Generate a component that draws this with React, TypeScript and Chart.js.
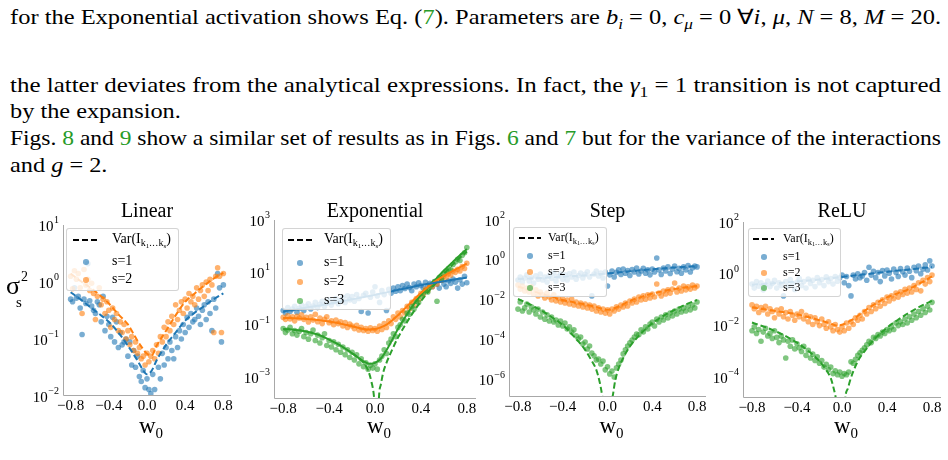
import React, { useEffect, useLayoutEffect, useRef } from "react";
import { Chart, registerables } from "chart.js";

Chart.register(...registerables);

const SERIF = '"Liberation Serif", "Times New Roman", Times, serif';
const BLUE = "31,119,180";
const ORANGE = "255,127,14";
const GREEN = "44,160,44";
const LINK_GREEN = "rgb(40,155,40)";
const SPINE = "#a8a8a8";

// ---------- shared x grid (w0) ----------
const W0: number[] = [
  -0.8, -0.78, -0.76, -0.74, -0.72, -0.7, -0.68, -0.66, -0.64, -0.62,
  -0.6, -0.58, -0.56, -0.54, -0.52, -0.5, -0.48, -0.46, -0.44, -0.42,
  -0.4, -0.38, -0.36, -0.34, -0.32, -0.3, -0.28, -0.26, -0.24, -0.22,
  -0.2, -0.18, -0.16, -0.14, -0.12, -0.1, -0.08, -0.06, -0.04, -0.02,
  0.0, 0.02, 0.04, 0.06, 0.08, 0.1, 0.12, 0.14, 0.16, 0.18,
  0.2, 0.22, 0.24, 0.26, 0.28, 0.3, 0.32, 0.34, 0.36, 0.38,
  0.4, 0.42, 0.44, 0.46, 0.48, 0.5, 0.52, 0.54, 0.56, 0.58,
  0.6, 0.62, 0.64, 0.66, 0.68, 0.7, 0.72, 0.74, 0.76, 0.78,
  0.8,
];
const X_TICKS: number[] = [-0.8, -0.4, 0.0, 0.4, 0.8];

// ---------- Linear ----------
const LIN_Y_TICKS: number[] = [1e-2, 1e-1, 1e0, 1e1];
const LIN_S1: number[] = [
  0.5, 0.45, 0.79, 0.52, 0.56, 0.35, 0.12, 0.5, 0.42, 2.1,
  0.47, 0.38, 0.32, 0.28, 0.45, 0.4, 0.2, 0.56, 0.14, 0.25,
  0.18, 0.11, 0.24, 0.089, 0.2, 0.071, 0.13, 0.079, 0.089, 0.1,
  0.05, 0.089, 0.035, 0.063, 0.032, 0.05, 0.022, 0.018, 0.028, 0.014,
  0.02, 0.013, 0.011, 0.024, 0.013, 0.0089, 0.032, 0.02, 0.056, 0.035,
  0.071, 0.045, 0.089, 0.063, 0.045, 0.11, 0.071, 0.14, 0.1, 0.18,
  0.13, 0.24, 0.16, 0.28, 0.2, 0.22, 0.35, 0.25, 0.18, 0.32,
  0.4, 0.22, 0.45, 0.28, 0.14, 0.5, 0.35, 1.4, 0.79, 0.089, 0.89,
];
const LIN_S2: number[] = [
  1.26, 0.76, 1.58, 1.12, 1.41, 0.79, 0.28, 1.66, 0.89, 1.12,
  0.71, 0.95, 0.63, 0.22, 0.56, 0.79, 0.4, 0.5, 0.28, 0.45,
  0.32, 0.16, 0.35, 0.22, 0.28, 0.14, 0.2, 0.13, 0.18, 0.1,
  0.14, 0.079, 0.11, 0.063, 0.089, 0.056, 0.071, 0.045, 0.05, 0.035,
  0.056, 0.04, 0.05, 0.063, 0.045, 0.079, 0.056, 0.11, 0.089, 0.16,
  0.11, 0.2, 0.14, 0.25, 0.18, 0.4, 0.22, 0.32, 0.45, 0.28,
  0.5, 0.35, 0.63, 0.45, 0.56, 0.4, 0.79, 0.5, 0.71, 0.89,
  0.56, 1.0, 0.71, 1.12, 0.89, 0.13, 1.26, 1.78, 1.26, 0.13, 1.41,
];
const LIN_CURVE_X: number[] = [-0.8, -0.7, -0.6, -0.5, -0.4, -0.3, -0.2, -0.1, -0.05, 0, 0.05, 0.1, 0.2, 0.3, 0.4, 0.5, 0.6, 0.7, 0.8];
const LIN_VAR_S1: number[] = [0.66, 0.5, 0.37, 0.275, 0.2, 0.13, 0.076, 0.042, 0.03, 0.024, 0.028, 0.042, 0.079, 0.13, 0.21, 0.29, 0.38, 0.5, 0.63];
const LIN_VAR_S2: number[] = [1.4, 1.05, 0.81, 0.6, 0.42, 0.27, 0.18, 0.093, 0.07, 0.055, 0.052, 0.076, 0.14, 0.26, 0.45, 0.63, 0.87, 1.15, 1.45];

// ---------- Exponential ----------
const EXP_Y_TICKS: number[] = [1e-3, 1e-1, 1e1, 1e3];
const EXP_S1: number[] = [
  0.35, 0.28, 0.45, 0.32, 0.4, 0.5, 0.3, 0.42, 0.56, 0.35,
  0.5, 0.63, 0.4, 0.52, 0.71, 0.45, 0.6, 0.79, 0.5, 0.66,
  0.89, 0.56, 0.76, 1.0, 0.63, 0.83, 1.12, 0.71, 1.26, 0.89,
  1.2, 0.79, 1.41, 1.0, 0.32, 1.32, 1.58, 0.28, 1.12, 1.78,
  2.8, 1.26, 0.71, 2.0, 1.41, 0.35, 2.24, 1.58, 2.5, 1.9,
  2.8, 2.0, 3.16, 2.4, 3.55, 2.63, 2.0, 3.55, 2.8, 4.0,
  3.16, 2.5, 4.2, 3.16, 3.8, 2.8, 4.5, 3.55, 2.5, 5.0,
  3.55, 2.8, 4.8, 3.8, 5.6, 4.2, 2.5, 5.2, 3.55, 7.1, 4.0,
];
const EXP_S2: number[] = [
  0.19, 0.16, 0.22, 0.166, 0.2, 0.14, 0.21, 0.18, 0.24, 0.16,
  0.19, 0.126, 0.2, 0.15, 0.25, 0.13, 0.18, 0.11, 0.16, 0.2,
  0.12, 0.14, 0.1, 0.15, 0.11, 0.13, 0.089, 0.12, 0.079, 0.105,
  0.089, 0.071, 0.095, 0.063, 0.079, 0.06, 0.071, 0.056, 0.076, 0.06,
  0.071, 0.056, 0.089, 0.066, 0.11, 0.079, 0.14, 0.11, 0.2, 0.16,
  0.28, 0.2, 0.35, 0.28, 0.5, 0.4, 0.71, 0.56, 1.0, 0.89,
  1.58, 1.41, 2.24, 2.0, 3.16, 2.8, 4.2, 3.55, 5.6, 5.0,
  7.1, 6.3, 8.9, 7.9, 11.2, 10, 13.2, 11.2, 16.6, 14.1, 22.4,
];
const EXP_S3: number[] = [
  0.071, 0.05, 0.063, 0.079, 0.045, 0.06, 0.04, 0.056, 0.071, 0.035,
  0.05, 0.028, 0.045, 0.063, 0.025, 0.04, 0.02, 0.032, 0.045, 0.016,
  0.025, 0.014, 0.022, 0.011, 0.018, 0.0089, 0.014, 0.0071, 0.011, 0.0056,
  0.0089, 0.0045, 0.0071, 0.0032, 0.005, 0.0025, 0.0035, 0.002, 0.0028, 0.0022,
  0.0032, 0.002, 0.0045, 0.0063, 0.011, 0.0079, 0.02, 0.028, 0.045, 0.035,
  0.079, 0.1, 0.16, 0.14, 0.28, 0.25, 0.5, 0.4, 0.79, 0.71,
  1.26, 1.58, 2.0, 1.78, 2.8, 3.55, 4.5, 0.79, 6.3, 5.6,
  8.9, 11.2, 14.1, 12.6, 20, 25, 31.6, 28.2, 44.7, 56, 89,
];
const EXP_CURVE_X: number[] = [-0.8, -0.7, -0.6, -0.5, -0.4, -0.3, -0.2, -0.1, -0.05, 0, 0.05, 0.1, 0.2, 0.3, 0.4, 0.5, 0.6, 0.7, 0.8];
const EXP_FIT_S1: number[] = [0.32, 0.376, 0.45, 0.53, 0.63, 0.77, 0.93, 1.13, 1.26, 1.38, 1.55, 1.72, 2.14, 2.63, 3.24, 3.85, 4.57, 5.4, 6.3];
const EXP_FIT_S2: number[] = [0.18, 0.178, 0.166, 0.151, 0.132, 0.11, 0.087, 0.069, 0.065, 0.068, 0.079, 0.1, 0.23, 0.62, 1.62, 3.8, 7.4, 12.6, 21.4];
const EXP_FIT_S3: number[] = [0.068, 0.063, 0.055, 0.042, 0.027, 0.0158, 0.0081, 0.004, 0.0032, 0.0035, 0.005, 0.0105, 0.068, 0.35, 1.38, 4.0, 11.7, 30.9, 77.6];
const EXP_VAR_S3_X: number[] = [-0.2, -0.14, -0.1, -0.06, -0.03, -0.01, 0, 0.02, 0.03, 0.05, 0.07, 0.1, 0.15, 0.2, 0.3, 0.4, 0.5, 0.6, 0.7, 0.8];
const EXP_VAR_S3: number[] = [0.0081, 5.2e-3, 3.5e-3, 1.8e-3, 6.3e-4, 2e-4, 5e-5, 1e-9, 5e-5, 5e-4, 1.4e-3, 3.5e-3, 0.0112, 0.032, 0.178, 0.79, 2.8, 8.9, 25, 63];

// ---------- Step ----------
const STEP_Y_TICKS: number[] = [1e-6, 1e-4, 1e-2, 1e0, 1e2];
const STEP_S1: number[] = [
  0.1, 0.14, 0.079, 0.126, 0.18, 0.089, 0.13, 0.071, 0.16, 0.11,
  0.2, 0.1, 0.14, 0.079, 0.166, 0.12, 0.22, 0.089, 0.15, 0.2,
  0.11, 0.18, 0.1, 0.21, 0.14, 0.25, 0.11, 0.166, 0.22, 0.126,
  0.19, 0.26, 0.14, 0.016, 0.2, 0.28, 0.16, 0.22, 0.126, 0.25,
  0.05, 0.18, 0.28, 0.14, 0.24, 0.32, 0.19, 0.35, 0.22, 0.3,
  0.166, 0.33, 0.25, 0.4, 0.2, 0.28, 0.38, 0.22, 0.32, 0.18,
  0.35, 0.25, 1.26, 0.32, 0.19, 0.4, 0.28, 0.45, 0.21, 0.35,
  0.5, 0.26, 0.38, 0.22, 0.45, 0.32, 0.52, 0.25, 0.4, 0.5, 0.45,
];
const STEP_S2: number[] = [
  0.056, 0.035, 0.05, 0.028, 0.04, 0.025, 0.045, 0.02, 0.032, 0.016,
  0.025, 0.018, 0.0126, 0.022, 0.014, 0.01, 0.018, 0.0089, 0.0126, 0.0079,
  0.011, 0.0071, 0.01, 0.0063, 0.011, 0.0056, 0.0079, 0.005, 0.0071, 0.0045,
  0.0063, 0.004, 0.0056, 0.0035, 0.005, 0.0028, 0.004, 0.0025, 0.0035, 0.0022,
  0.0032, 0.002, 0.0035, 0.0028, 0.0045, 0.0035, 0.0056, 0.0045, 0.0071, 0.005,
  0.0089, 0.0071, 0.011, 0.0079, 0.014, 0.01, 0.016, 0.011, 0.018, 0.0126,
  0.02, 0.014, 0.063, 0.022, 0.016, 0.028, 0.02, 0.032, 0.022, 0.035,
  0.071, 0.025, 0.04, 0.028, 0.05, 0.032, 0.045, 0.035, 0.056, 0.04, 0.05,
];
const STEP_S3: number[] = [
  3.5e-3, 7.9e-3, 2.8e-3, 4e-3, 6.3e-3, 2.5e-3, 4.5e-3, 3.2e-3, 2e-3, 3.5e-3,
  1.4e-3, 2.5e-3, 1.1e-3, 1.8e-3, 8.9e-4, 1.4e-3, 7.9e-4, 1e-3, 5.6e-4, 8.9e-4,
  5e-4, 7.1e-4, 3.5e-4, 4.5e-4, 2.5e-4, 3.2e-4, 1.6e-4, 1.1e-4, 1.4e-4, 6.3e-5,
  7.9e-5, 3.5e-5, 5e-5, 2.2e-5, 1.6e-5, 1e-5, 1.1e-5, 6.3e-6, 8.9e-6, 3.2e-6,
  4.5e-6, 2e-6, 2.8e-6, 1.4e-6, 4e-6, 6.3e-6, 1e-5, 2e-5, 3.2e-5, 5e-5,
  7.1e-5, 1e-4, 1.4e-4, 2e-4, 1.8e-4, 3.2e-4, 2.5e-4, 4.5e-4, 3.5e-4, 6.3e-4,
  7.9e-4, 5e-4, 1.1e-3, 7.9e-4, 1.4e-3, 1e-3, 1.8e-3, 1.26e-3, 2.2e-3, 1.6e-3,
  2.8e-3, 2e-3, 3.5e-3, 2.5e-3, 4e-3, 2.8e-3, 5e-3, 3.2e-3, 5.6e-3, 4e-3, 7.9e-3,
];
const STEP_VAR_S1_X: number[] = [-0.8, -0.6, -0.4, -0.2, 0, 0.2, 0.4, 0.6, 0.8];
const STEP_VAR_S1: number[] = [0.112, 0.126, 0.145, 0.17, 0.21, 0.27, 0.34, 0.42, 0.5];
const STEP_VAR_S2_X: number[] = [-0.8, -0.7, -0.6, -0.5, -0.4, -0.3, -0.2, -0.1, 0, 0.1, 0.2, 0.3, 0.4, 0.5, 0.6, 0.7, 0.8];
const STEP_VAR_S2: number[] = [0.047, 0.032, 0.021, 0.0145, 0.01, 0.0076, 0.006, 0.0044, 0.0032, 0.0047, 0.0089, 0.014, 0.021, 0.028, 0.035, 0.043, 0.05];
const STEP_VAR_S3_X: number[] = [-0.8, -0.7, -0.6, -0.5, -0.4, -0.3, -0.2, -0.15, -0.1, -0.07, -0.05, -0.03, 0, 0.03, 0.05, 0.07, 0.1, 0.15, 0.2, 0.3, 0.4, 0.5, 0.6, 0.7, 0.8];
const STEP_VAR_S3: number[] = [0.0112, 0.0063, 0.0032, 0.0014, 5.6e-4, 1.5e-4, 3.2e-5, 1.1e-5, 3.2e-6, 7.9e-7, 2e-7, 3.2e-8, 1e-12, 3.2e-8, 2e-7, 1e-6, 3.8e-6, 1.6e-5, 4.7e-5, 2.1e-4, 6.8e-4, 1.6e-3, 3.2e-3, 6e-3, 0.01];

// ---------- ReLU ----------
const RELU_Y_TICKS: number[] = [1e-4, 1e-2, 1e0, 1e2];
const RELU_S1: number[] = [
  0.4, 0.28, 0.5, 0.33, 0.45, 0.24, 0.38, 0.52, 0.32, 0.42,
  0.56, 0.28, 0.45, 0.35, 0.14, 0.5, 0.33, 0.6, 0.4, 0.25,
  0.48, 0.66, 0.35, 0.5, 0.28, 0.63, 0.42, 0.56, 0.32, 0.71,
  0.45, 0.6, 0.35, 0.76, 0.5, 0.66, 0.4, 0.79, 0.52, 0.71,
  0.89, 0.45, 0.79, 0.35, 0.14, 0.89, 0.63, 1.0, 0.71, 0.83,
  1.12, 0.56, 1.78, 0.89, 1.26, 0.71, 1.12, 0.5, 1.32, 0.83,
  1.41, 1.05, 0.63, 1.51, 1.12, 0.79, 1.58, 1.2, 0.89, 1.66,
  1.26, 0.71, 1.78, 1.32, 2.0, 1.0, 1.51, 2.24, 1.41, 3.16, 2.0,
];
const RELU_S2: number[] = [
  0.063, 0.045, 0.056, 0.032, 0.05, 0.04, 0.056, 0.028, 0.045, 0.035,
  0.02, 0.04, 0.028, 0.045, 0.022, 0.032, 0.018, 0.035, 0.025, 0.016,
  0.028, 0.022, 0.035, 0.018, 0.025, 0.014, 0.022, 0.011, 0.02, 0.014,
  0.01, 0.018, 0.011, 0.0079, 0.014, 0.0089, 0.0063, 0.011, 0.0071, 0.0056,
  0.0089, 0.0063, 0.0126, 0.0079, 0.014, 0.011, 0.02, 0.016, 0.025, 0.018,
  0.035, 0.028, 0.05, 0.035, 0.063, 0.045, 0.079, 0.056, 0.1, 0.071,
  0.126, 0.089, 0.14, 0.11, 0.18, 0.126, 0.2, 0.16, 0.25, 0.18,
  0.28, 0.2, 0.35, 0.25, 0.45, 0.22, 0.56, 0.4, 0.71, 0.5, 0.89,
];
const RELU_S3: number[] = [
  6.3e-3, 8.9e-3, 5e-3, 7.1e-3, 2.5e-3, 5.6e-3, 7.9e-3, 4e-3, 5e-3, 3.2e-3,
  6.3e-3, 3.5e-3, 2.2e-3, 4e-3, 2.8e-3, 5.6e-4, 2.5e-3, 1.6e-3, 2.8e-3, 1.26e-3,
  2e-3, 1.4e-3, 1e-3, 1.6e-3, 7.1e-4, 1.1e-3, 5.6e-4, 7.9e-4, 4.5e-4, 6.3e-4,
  3.5e-4, 4.5e-4, 2.5e-4, 3.2e-4, 2e-4, 2.5e-4, 1.4e-4, 1.8e-4, 1.26e-4, 1.6e-4,
  1.1e-4, 1.4e-4, 1.26e-4, 1.6e-4, 4e-4, 3.5e-4, 5e-4, 7.1e-4, 8.9e-4, 1.1e-3,
  1.4e-3, 1.8e-3, 2.5e-3, 2.2e-3, 3.5e-3, 3.2e-3, 4.5e-3, 4e-3, 5.6e-3, 5e-3,
  7.1e-3, 6.3e-3, 8.9e-3, 7.1e-3, 0.0126, 0.01, 0.014, 0.011, 0.018, 0.0126,
  0.022, 0.016, 0.028, 0.02, 0.035, 0.025, 0.045, 0.032, 0.056, 0.04, 0.079,
];
const RELU_VAR_S1_X: number[] = [-0.8, -0.6, -0.4, -0.2, 0, 0.2, 0.4, 0.6, 0.8];
const RELU_VAR_S1: number[] = [0.38, 0.43, 0.5, 0.6, 0.76, 0.95, 1.2, 1.48, 1.82];
const RELU_VAR_S2_X: number[] = [-0.8, -0.6, -0.4, -0.2, -0.1, -0.05, 0, 0.05, 0.1, 0.2, 0.3, 0.4, 0.5, 0.6, 0.7, 0.8];
const RELU_VAR_S2: number[] = [0.05, 0.037, 0.0275, 0.0162, 0.012, 0.01, 0.0107, 0.0135, 0.0178, 0.037, 0.071, 0.123, 0.18, 0.26, 0.45, 0.79];
const RELU_VAR_S3_X: number[] = [-0.8, -0.6, -0.4, -0.3, -0.2, -0.15, -0.1, -0.07, -0.05, -0.03, 0, 0.03, 0.05, 0.07, 0.1, 0.15, 0.2, 0.3, 0.4, 0.5, 0.6, 0.7, 0.8];
const RELU_VAR_S3: number[] = [0.0132, 0.0063, 0.0022, 1.05e-3, 4.2e-4, 2.2e-4, 9.3e-5, 3.2e-5, 1.26e-5, 4e-6, 1e-9, 1.6e-5, 3.5e-5, 7.1e-5, 1.7e-4, 5e-4, 1.02e-3, 3.4e-3, 8.3e-3, 0.017, 0.032, 0.056, 0.091];

// ---------- panel descriptions ----------
type LineSpec = { xs: number[]; ys: number[]; rgb: string; dashed: boolean };
type PointSpec = { ys: number[]; rgb: string };
type LegendSpec = { left: number; top: number; w: number; h: number; font: number; rows: number[]; dashX: [number, number]; dotX: number; textX: number };
type Panel = {
  key: string; title: string; L: number; R: number; T: number; B: number;
  yMin: number; yMax: number; yTicks: number[];
  points: PointSpec[]; lines: LineSpec[]; legend: LegendSpec;
};

const PANELS: Panel[] = [
  {
    key: "lin", title: "Linear", L: 63, R: 231, T: 225, B: 396, yMin: 1e-2, yMax: 1e1, yTicks: LIN_Y_TICKS,
    points: [{ ys: LIN_S1, rgb: BLUE }, { ys: LIN_S2, rgb: ORANGE }],
    lines: [
      { xs: LIN_CURVE_X, ys: LIN_VAR_S1, rgb: BLUE, dashed: true },
      { xs: LIN_CURVE_X, ys: LIN_VAR_S2, rgb: ORANGE, dashed: true },
    ],
    legend: { left: 66, top: 228, w: 113, h: 63, font: 14, rows: [239, 261, 279], dashX: [6, 31], dotX: 19, textX: 45 },
  },
  {
    key: "exp", title: "Exponential", L: 274, R: 476, T: 220, B: 399, yMin: 1.45e-4, yMax: 1e3, yTicks: EXP_Y_TICKS,
    points: [{ ys: EXP_S1, rgb: BLUE }, { ys: EXP_S2, rgb: ORANGE }, { ys: EXP_S3, rgb: GREEN }],
    lines: [
      { xs: EXP_CURVE_X, ys: EXP_FIT_S1, rgb: BLUE, dashed: false },
      { xs: EXP_CURVE_X, ys: EXP_FIT_S2, rgb: ORANGE, dashed: false },
      { xs: EXP_CURVE_X, ys: EXP_FIT_S3, rgb: GREEN, dashed: false },
      { xs: EXP_VAR_S3_X, ys: EXP_VAR_S3, rgb: GREEN, dashed: true },
    ],
    legend: { left: 282, top: 228, w: 109, h: 82, font: 14, rows: [239, 262, 281, 300], dashX: [5, 30], dotX: 17, textX: 41 },
  },
  {
    key: "step", title: "Step", L: 509, R: 706, T: 220, B: 397, yMin: 1.4e-7, yMax: 1e2, yTicks: STEP_Y_TICKS,
    points: [{ ys: STEP_S1, rgb: BLUE }, { ys: STEP_S2, rgb: ORANGE }, { ys: STEP_S3, rgb: GREEN }],
    lines: [
      { xs: STEP_VAR_S1_X, ys: STEP_VAR_S1, rgb: BLUE, dashed: true },
      { xs: STEP_VAR_S2_X, ys: STEP_VAR_S2, rgb: ORANGE, dashed: true },
      { xs: STEP_VAR_S3_X, ys: STEP_VAR_S3, rgb: GREEN, dashed: true },
    ],
    legend: { left: 513, top: 227, w: 94, h: 70, font: 12, rows: [237, 255, 271, 287], dashX: [5, 27], dotX: 16, textX: 34 },
  },
  {
    key: "relu", title: "ReLU", L: 743, R: 941, T: 222, B: 398, yMin: 1.6e-5, yMax: 1e2, yTicks: RELU_Y_TICKS,
    points: [{ ys: RELU_S1, rgb: BLUE }, { ys: RELU_S2, rgb: ORANGE }, { ys: RELU_S3, rgb: GREEN }],
    lines: [
      { xs: RELU_VAR_S1_X, ys: RELU_VAR_S1, rgb: BLUE, dashed: true },
      { xs: RELU_VAR_S2_X, ys: RELU_VAR_S2, rgb: ORANGE, dashed: true },
      { xs: RELU_VAR_S3_X, ys: RELU_VAR_S3, rgb: GREEN, dashed: true },
    ],
    legend: { left: 748, top: 228, w: 93, h: 69, font: 12, rows: [238, 256, 272, 287], dashX: [4, 25], dotX: 15, textX: 34 },
  },
];

const AX_W = 50;
const PAD_T = 14;
const PAD_R = 6;
const AX_H = 26;

function fmtX(v: number): string {
  const s = v.toFixed(1);
  return s.startsWith("-") ? "\u2212" + s.slice(1) : s;
}

function PanelChart({ p }: { p: Panel }) {
  const ref = useRef<HTMLCanvasElement | null>(null);
  const w = AX_W + (p.R - p.L) + PAD_R;
  const h = PAD_T + (p.B - p.T) + AX_H;

  useEffect(() => {
    const datasets: any[] = [];
    p.lines.forEach((l) => {
      datasets.push({
        data: l.xs.map((x, i) => ({ x, y: l.ys[i] })),
        showLine: true,
        borderColor: `rgb(${l.rgb})`,
        backgroundColor: `rgb(${l.rgb})`,
        borderWidth: 2,
        borderDash: l.dashed ? [6, 3] : [],
        pointRadius: 0,
        pointHoverRadius: 0,
        fill: false,
        cubicInterpolationMode: "monotone",
        clip: 0,
        order: 0,
      });
    });
    p.points.forEach((s, k) => {
      datasets.push({
        data: W0.map((x, i) => ({ x, y: s.ys[i] })),
        showLine: false,
        pointRadius: 2.8,
        pointHoverRadius: 2.8,
        pointBackgroundColor: `rgba(${s.rgb},0.6)`,
        backgroundColor: `rgba(${s.rgb},0.6)`,
        pointBorderWidth: 0,
        borderColor: "rgba(0,0,0,0)",
        clip: 0,
        order: 10 - k,
      });
    });

    const axesPlugin = {
      id: "mplAxes",
      afterDraw(chart: any) {
        const { ctx, chartArea: a } = chart;
        const xs = chart.scales.x;
        const ys = chart.scales.y;
        ctx.save();
        ctx.strokeStyle = SPINE;
        ctx.lineWidth = 1;
        ctx.beginPath();
        ctx.moveTo(a.left + 0.5, a.top);
        ctx.lineTo(a.left + 0.5, a.bottom - 0.5);
        ctx.lineTo(a.right, a.bottom - 0.5);
        ctx.stroke();
        ctx.fillStyle = "#000";
        ctx.textBaseline = "alphabetic";
        ctx.textAlign = "right";
        for (const v of p.yTicks) {
          const y = ys.getPixelForValue(v);
          const e = Math.round(Math.log10(v));
          const es = e < 0 ? "\u2212" + String(-e) : String(e);
          ctx.font = `10px ${SERIF}`;
          const ew = ctx.measureText(es).width;
          const xr = a.left - 4;
          ctx.fillText(es, xr, y - 2);
          ctx.font = `15px ${SERIF}`;
          ctx.fillText("10", xr - ew - 0.5, y + 5.5);
        }
        ctx.textAlign = "center";
        ctx.font = `15px ${SERIF}`;
        for (const v of X_TICKS) {
          const x = xs.getPixelForValue(v);
          ctx.fillText(fmtX(v), x, a.bottom + 14);
        }
        ctx.restore();
      },
    };

    const chart = new Chart(ref.current as HTMLCanvasElement, {
      type: "scatter",
      data: { datasets },
      options: {
        animation: false,
        responsive: false,
        maintainAspectRatio: false,
        devicePixelRatio: 1,
        events: [],
        layout: { padding: { left: 0, top: PAD_T, right: PAD_R, bottom: 0 } },
        plugins: { legend: { display: false }, tooltip: { enabled: false }, title: { display: false } },
        scales: {
          x: {
            type: "linear", min: -0.88, max: 0.88,
            grid: { display: false }, border: { display: false }, ticks: { display: false },
            afterFit: (s: any) => { s.height = AX_H; },
          },
          y: {
            type: "logarithmic", min: p.yMin, max: p.yMax,
            grid: { display: false }, border: { display: false }, ticks: { display: false },
            afterFit: (s: any) => { s.width = AX_W; },
          },
        },
      } as any,
      plugins: [axesPlugin],
    });
    return () => chart.destroy();
  }, [p]);

  return (
    <canvas
      ref={ref}
      width={w}
      height={h}
      style={{ position: "absolute", left: p.L - AX_W, top: p.T - PAD_T, width: w, height: h }}
    />
  );
}

const subStyle: React.CSSProperties = { fontSize: "0.7em", position: "relative", top: "0.3em", lineHeight: 0 };
const Sub = ({ children }: { children: React.ReactNode }) => <span style={subStyle}>{children}</span>;
const G = ({ children }: { children: React.ReactNode }) => <span style={{ color: LINK_GREEN }}>{children}</span>;

function VarLabel() {
  return (
    <span>
      Var(I
      <span style={{ fontSize: "0.72em", position: "relative", top: "0.3em", lineHeight: 0 }}>
        k<span style={{ fontSize: "0.7em", position: "relative", top: "0.25em", lineHeight: 0 }}>1</span>
        <span style={{ letterSpacing: "0.5px" }}>...</span>k
        <span style={{ fontSize: "0.7em", position: "relative", top: "0.25em", lineHeight: 0 }}>s</span>
      </span>
      )
    </span>
  );
}

function Legend({ p }: { p: Panel }) {
  const lg = p.legend;
  const rowTop = (c: number) => c - lg.top - lg.font * 0.55;
  const dashW = lg.dashX[1] - lg.dashX[0];
  return (
    <div
      style={{
        position: "absolute", left: lg.left, top: lg.top, width: lg.w, height: lg.h,
        background: "rgba(255,255,255,0.8)", border: "1px solid rgba(204,204,204,0.85)",
        borderRadius: 3, boxSizing: "border-box", fontFamily: SERIF, fontSize: lg.font, color: "#000",
      }}
    >
      <svg
        width={dashW}
        height={4}
        style={{ position: "absolute", left: lg.dashX[0], top: lg.rows[0] - lg.top - 2 }}
      >
        <line x1={0} y1={2} x2={dashW} y2={2} stroke="#000" strokeWidth={2} strokeDasharray="6,3" />
      </svg>
      <div style={{ position: "absolute", left: lg.textX, top: rowTop(lg.rows[0]), lineHeight: `${lg.font}px`, whiteSpace: "nowrap" }}>
        <VarLabel />
      </div>
      {p.points.map((s, i) => (
        <React.Fragment key={i}>
          <div
            style={{
              position: "absolute", left: lg.dotX - 2.8, top: lg.rows[i + 1] - lg.top - 2.8, width: 5.6, height: 5.6,
              borderRadius: "50%", background: `rgba(${s.rgb},0.6)`,
            }}
          />
          <div style={{ position: "absolute", left: lg.textX, top: rowTop(lg.rows[i + 1]), lineHeight: `${lg.font}px`, whiteSpace: "nowrap" }}>
            s={i + 1}
          </div>
        </React.Fragment>
      ))}
    </div>
  );
}

function PanelTexts({ p }: { p: Panel }) {
  const cx = (p.L + p.R) / 2;
  return (
    <>
      <div
        style={{
          position: "absolute", left: cx - 100, width: 200, top: 217 - 0.8375 * 20, textAlign: "center",
          fontFamily: SERIF, fontSize: 20, lineHeight: "20px", whiteSpace: "nowrap",
        }}
      >
        {p.title}
      </div>
      <div
        style={{
          position: "absolute", left: cx + 4 - 60, width: 120, top: 433 - 0.8375 * 23, textAlign: "center",
          fontFamily: SERIF, fontSize: 23, lineHeight: "23px", whiteSpace: "nowrap",
        }}
      >
        w<span style={{ fontSize: 15, position: "relative", top: 5, lineHeight: 0 }}>0</span>
      </div>
      <Legend p={p} />
    </>
  );
}

type TextLine = { baseline: number; full: boolean; content: React.ReactNode };

const TEXT_LINES: TextLine[] = [
  {
    baseline: 25, full: true,
    content: (
      <>
        for the Exponential activation shows Eq. (<G>7</G>). Parameters are <i>b</i><Sub><i>i</i></Sub> = 0,{" "}
        <i>c</i><Sub><i>μ</i></Sub> = 0 ∀<i>i</i>, <i>μ</i>, <i>N</i> = 8, <i>M</i> = 20.
      </>
    ),
  },
  {
    baseline: 93, full: true,
    content: (
      <>
        the latter deviates from the analytical expressions. In fact, the <i>γ</i><Sub>1</Sub> = 1 transition is not captured
      </>
    ),
  },
  { baseline: 119, full: false, content: <>by the expansion.</> },
  {
    baseline: 146, full: true,
    content: (
      <>
        Figs. <G>8</G> and <G>9</G> show a similar set of results as in Figs. <G>6</G> and <G>7</G> but for the variance of the interactions
      </>
    ),
  },
  { baseline: 173, full: false, content: <>and <i>g</i> = 2.</> },
];

const TEXT_FS = 21;
const TEXT_LEFT = 10;
const TEXT_RIGHT = 941;

export default function App() {
  const lineRefs = useRef<(HTMLDivElement | null)[]>([]);

  useLayoutEffect(() => {
    const target = TEXT_RIGHT - TEXT_LEFT;
    const scales: number[] = [];
    TEXT_LINES.forEach((l, i) => {
      const el = lineRefs.current[i];
      if (!el || !l.full) return;
      el.style.transform = "none";
      const w = el.getBoundingClientRect().width;
      const s = target / w;
      scales.push(s);
      el.style.transformOrigin = "0 0";
      el.style.transform = `scaleX(${s})`;
    });
    const avg = scales.length ? scales.reduce((a, b) => a + b, 0) / scales.length : 1;
    TEXT_LINES.forEach((l, i) => {
      const el = lineRefs.current[i];
      if (!el || l.full) return;
      el.style.transformOrigin = "0 0";
      el.style.transform = `scaleX(${avg})`;
    });
  }, []);

  return (
    <div
      style={{
        position: "absolute", left: 0, top: 0, width: 948, height: 460, overflow: "hidden",
        background: "#fff", fontFamily: SERIF, color: "#000",
      }}
    >
      {TEXT_LINES.map((l, i) => (
        <div
          key={i}
          ref={(el) => { lineRefs.current[i] = el; }}
          style={{
            position: "absolute", left: TEXT_LEFT, top: l.baseline - 0.8375 * TEXT_FS,
            fontSize: TEXT_FS, lineHeight: `${TEXT_FS}px`, whiteSpace: "nowrap",
          }}
        >
          {l.content}
        </div>
      ))}

      {PANELS.map((p) => (
        <PanelChart key={p.key} p={p} />
      ))}
      {PANELS.map((p) => (
        <PanelTexts key={p.key + "_t"} p={p} />
      ))}

      {/* y-axis label sigma_s^2 */}
      <div style={{ position: "absolute", left: 6, top: 295 - 0.8375 * 26, fontFamily: SERIF, fontSize: 26, lineHeight: "26px" }}>σ</div>
      <div style={{ position: "absolute", left: 21, top: 282 - 0.8375 * 14, fontFamily: SERIF, fontSize: 14, lineHeight: "14px" }}>2</div>
      <div style={{ position: "absolute", left: 16, top: 308 - 0.8375 * 15, fontFamily: SERIF, fontSize: 15, lineHeight: "15px" }}>s</div>
    </div>
  );
}
